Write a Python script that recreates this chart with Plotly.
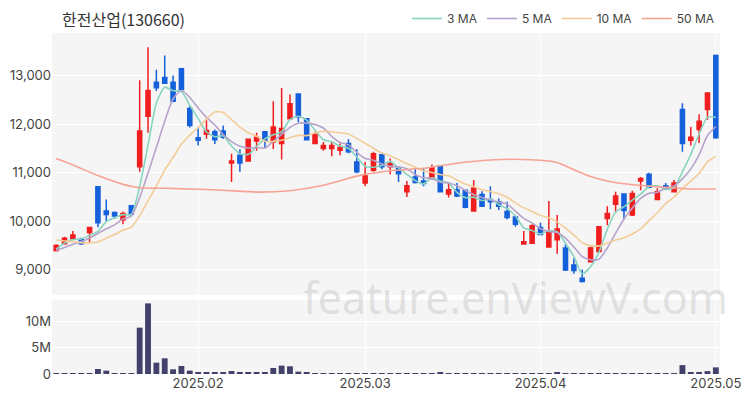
import plotly.graph_objects as go
import pandas as pd

title_text = "한전산업(130660)"

opens = [9400, 9540, 9640, 9630, 9770, 10710, 10210, 10180, 10030, 10320,
         11120, 12160, 12860, 12960, 12860, 13140, 12320, 11720, 11790, 11840,
         11860, 11200, 11360, 11240, 11650, 11840, 11630, 11600, 12110, 12620,
         12110, 11600, 11500, 11500, 11460, 11600, 11220, 10790, 11050, 11370,
         11120, 11090, 10610, 10910, 10830, 10880, 11130, 10560, 10650, 10640,
         10210, 10550, 10450, 10400, 10200, 10090, 9535, 9550, 9870, 9470,
         9620, 9450, 9100, 8830, 9170, 9380, 10060, 10350, 10560, 10130,
         10830, 10970, 10450, 10730, 10610, 12300, 11670, 11890, 12300, 13410]
highs = [9530, 9680, 9800, 9660, 9880, 10720, 10450, 10200, 10200, 10330,
         12900, 13580, 13120, 13410, 13000, 13160, 12390, 11930, 12110, 11890,
         11970, 11390, 11480, 11700, 11820, 11850, 12470, 12740, 12610, 12630,
         12120, 11840, 11630, 11630, 11600, 11690, 11480, 11220, 11430, 11410,
         11290, 11110, 10830, 11110, 11090, 11170, 11140, 10780, 10790, 10650,
         10850, 10620, 10720, 10470, 10400, 10110, 9800, 9940, 9970, 10420,
         10130, 9550, 9240, 9010, 9480, 9900, 10310, 10610, 10570, 10630,
         10910, 11000, 10680, 10790, 10850, 12430, 11940, 12200, 12650, 13430]
lows = [9380, 9520, 9620, 9510, 9550, 9880, 9990, 10050, 9940, 10110,
        11020, 11820, 12680, 12830, 12450, 12690, 11930, 11560, 11700, 11590,
        11700, 10810, 11020, 11230, 11450, 11510, 11490, 11270, 12090, 12040,
        11670, 11590, 11450, 11340, 11360, 11400, 10990, 10720, 11020, 11070,
        10970, 10810, 10500, 10780, 10720, 10860, 10590, 10490, 10500, 10270,
        10200, 10300, 10250, 10230, 10040, 9890, 9530, 9540, 9720, 9460,
        9330, 8980, 8920, 8740, 9150, 9360, 9920, 10180, 10030, 10110,
        10640, 10680, 10440, 10650, 10600, 11430, 11560, 11610, 12090, 11700]
closes = [9500, 9650, 9720, 9540, 9870, 9970, 10140, 10110, 10160, 10150,
          11860, 12690, 12750, 12840, 12470, 12710, 11970, 11670, 11870, 11680,
          11730, 11240, 11200, 11690, 11730, 11670, 11940, 11910, 12420, 12150,
          11680, 11790, 11560, 11560, 11520, 11430, 11020, 10930, 11390, 11120,
          11190, 10980, 10730, 10800, 10780, 11100, 10610, 10650, 10520, 10290,
          10680, 10310, 10400, 10310, 10080, 9940, 9580, 9910, 9730, 9790,
          9840, 9000, 8990, 8760, 9450, 9890, 10160, 10520, 10220, 10570,
          10880, 10700, 10610, 10660, 10790, 11600, 11730, 12060, 12640, 11720]
volumes = [0.10e6, 0.08e6, 0.10e6, 0.08e6, 0.12e6, 0.96e6, 0.64e6, 0.15e6, 0.15e6, 0.18e6,
           8.86e6, 13.5e6, 2.17e6, 3.0e6, 0.9e6, 1.53e6, 0.64e6, 0.38e6, 0.32e6, 0.25e6,
           0.2e6, 0.57e6, 0.3e6, 0.3e6, 0.2e6, 0.2e6, 1.15e6, 1.6e6, 1.47e6, 0.45e6,
           0.25e6, 0.12e6, 0.1e6, 0.12e6, 0.1e6, 0.1e6, 0.12e6, 0.1e6, 0.12e6, 0.1e6,
           0.1e6, 0.12e6, 0.1e6, 0.12e6, 0.1e6, 0.15e6, 0.3e6, 0.1e6, 0.12e6, 0.1e6,
           0.1e6, 0.12e6, 0.1e6, 0.1e6, 0.12e6, 0.1e6, 0.1e6, 0.12e6, 0.1e6, 0.15e6,
           0.2e6, 0.12e6, 0.1e6, 0.12e6, 0.1e6, 0.12e6, 0.1e6, 0.1e6, 0.12e6, 0.1e6,
           0.18e6, 0.1e6, 0.1e6, 0.12e6, 0.1e6, 1.7e6, 0.3e6, 0.3e6, 0.55e6, 1.27e6]

# closes before the visible window (estimated from where the short MAs start)
prev_closes = [9850, 9820, 9840, 9810, 9830, 9360, 9365, 9280, 9500]

ma50_idx = [0, 2, 5, 8, 10, 13, 16, 20, 24, 28, 32, 36, 40, 44, 48, 52, 56, 60, 62, 64, 66, 68, 72, 76, 79]
ma50_val = [11290, 11160, 10940, 10760, 10690, 10680, 10665, 10640, 10600, 10630, 10740, 10930,
            11040, 11090, 11195, 11262, 11271, 11211, 11062, 10920, 10828, 10772, 10710, 10666, 10665]

tick_idx = [17, 37, 58, 79]
tick_labels = ["2025.02", "2025.03", "2025.04", "2025.05"]

price_ticks = [9000, 10000, 11000, 12000, 13000]
vol_ticks = [0, 5e6, 10e6]
vol_tick_labels = ["0", "5M", "10M"]

n = len(closes)
x = list(range(n))
series = pd.Series(prev_closes + closes)
ma3 = series.rolling(3).mean().tolist()[-n:]
ma5 = series.rolling(5).mean().tolist()[-n:]
ma10 = series.rolling(10).mean().tolist()[-n:]

UP = "#f01e1e"
DOWN = "#1560db"
fig = go.Figure()

ma_specs = [("3 MA", ma3, x, "#88d4c0"), ("5 MA", ma5, x, "#b6a3cc"),
            ("10 MA", ma10, x, "#f3cc98"), ("50 MA", ma50_val, ma50_idx, "#f6a394")]
for name, vals, xs, col in ma_specs:
    fig.add_trace(go.Scatter(x=xs, y=vals, mode="lines", name=name,
                             line=dict(color=col, width=1.6, shape="spline", smoothing=0.6),
                             xaxis="x", yaxis="y", hoverinfo="skip"))

fig.add_trace(go.Candlestick(x=x, open=opens, high=highs, low=lows, close=closes,
                             increasing=dict(line=dict(color=UP, width=1.5), fillcolor=UP),
                             decreasing=dict(line=dict(color=DOWN, width=1.5), fillcolor=DOWN),
                             whiskerwidth=0, showlegend=False, xaxis="x", yaxis="y"))

fig.add_trace(go.Bar(x=x, y=volumes, marker=dict(color="#41416b", line=dict(width=0)),
                     showlegend=False, xaxis="x2", yaxis="y2"))

axis_font = dict(family="Inter, Noto Sans, sans-serif", size=13, color="#444")
fig.update_layout(
    width=750, height=400,
    margin=dict(l=44, r=38, t=25, b=34, autoexpand=False),
    paper_bgcolor="white", plot_bgcolor="#f5f5f5",
    title=dict(text=title_text, x=54 / 750, xanchor="left", y=1 - 12 / 400, yanchor="middle",
               font=dict(family="Noto Sans CJK KR", size=16, color="#333")),
    legend=dict(orientation="h", x=1.0, xanchor="right", y=1.0, yanchor="bottom",
                font=dict(family="Inter, Noto Sans, sans-serif", size=12, color="#444"),
                bgcolor="rgba(0,0,0,0)", itemwidth=30, tracegroupgap=0),
    bargap=0.3,
    showlegend=True,
    xaxis=dict(domain=[0, 1], range=[-0.5, n - 0.5], rangeslider=dict(visible=False),
               tickvals=tick_idx, ticktext=tick_labels, showticklabels=False,
               showgrid=True, gridcolor="white", zeroline=False, anchor="y"),
    yaxis=dict(domain=[0.232, 1], range=[8486, 13874], tickvals=price_ticks, tickformat=",",
               showgrid=True, gridcolor="white", gridwidth=1, zeroline=False, tickfont=axis_font,
               ticks="", anchor="x"),
    xaxis2=dict(domain=[0, 1], range=[-0.5, n - 0.5], tickvals=tick_idx, ticktext=tick_labels,
                showgrid=True, gridcolor="white", zeroline=False, tickfont=axis_font,
                ticks="", anchor="y2", matches="x"),
    yaxis2=dict(domain=[0, 0.217], range=[0, 14.15e6], tickvals=vol_ticks, ticktext=vol_tick_labels,
                showgrid=True, gridcolor="white", zeroline=False, tickfont=axis_font,
                ticks="", anchor="x2"),
    annotations=[dict(text="feature.enViewV.com", xref="paper", yref="paper",
                      x=1.015, xanchor="right", y=0.223, yanchor="middle", showarrow=False,
                      font=dict(family="Noto Sans, sans-serif", size=43, color="rgba(195,195,195,0.45)"))],
)

fig.write_html("out.html")
